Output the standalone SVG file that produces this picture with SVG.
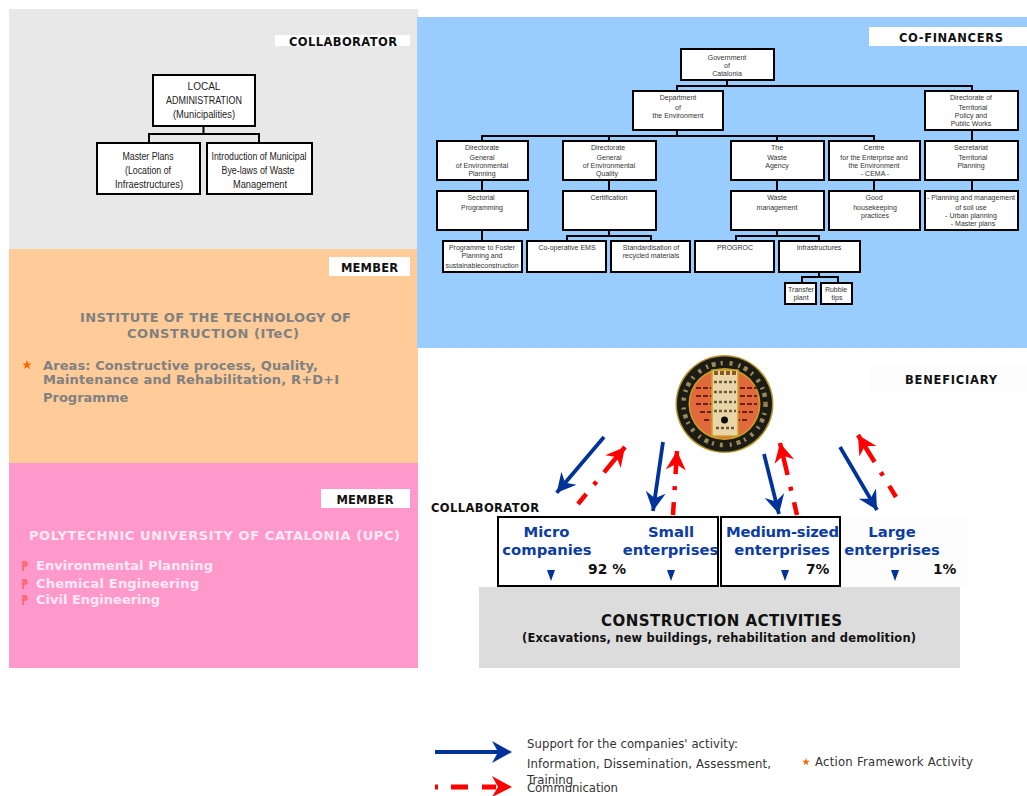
<svg xmlns="http://www.w3.org/2000/svg" xmlns:xlink="http://www.w3.org/1999/xlink" width="1027" height="796" viewBox="0 0 1027 796">
<style>
text{font-family:"DejaVu Sans",Verdana,sans-serif}
.b{fill:#fff;stroke:#000;stroke-width:2}
.o{font-family:"Liberation Sans",Arial,sans-serif;font-size:7px;fill:#333;text-anchor:middle}
.l{font-family:"Liberation Sans",Arial,sans-serif;font-size:10px;fill:#222;text-anchor:middle}
.tag{font-size:11.5px;font-weight:bold;fill:#111;text-anchor:middle}
.g{font-size:13px;font-weight:bold;fill:#808080}
.p{font-size:13px;font-weight:bold;fill:#ffe9f4}
.c{font-size:14.8px;font-weight:bold;fill:#0c3ca4;text-anchor:middle}
.pc{font-size:13.8px;font-weight:bold;fill:#111}
.k{font-size:11.7px;fill:#333}
.w{fill:none;stroke:#000;stroke-width:2}
.bl{fill:none;stroke:#003399;stroke-width:3.8;marker-end:url(#hb)}
.rd{fill:none;stroke:#f00;stroke-width:4.5;stroke-dasharray:13 12 4 12 200;marker-end:url(#hr)}
</style>
<defs>
<marker id="hb" markerUnits="userSpaceOnUse" markerWidth="21" markerHeight="22" viewBox="-20 -11 21 22" refX="0" refY="0" orient="auto"><path d="M0,0L-19,-10L-13,0L-19,10Z" fill="#003399"/></marker>
<marker id="hr" markerUnits="userSpaceOnUse" markerWidth="21" markerHeight="22" viewBox="-20 -11 21 22" refX="0" refY="0" orient="auto"><path d="M0,0L-19,-10L-13,0L-19,10Z" fill="#f00"/></marker>
<polygon id="star" fill="#ff6600" points="0,-5 1.18,-1.62 4.76,-1.55 1.9,.62 2.94,4.05 0,2 -2.94,4.05 -1.9,.62 -4.76,-1.55 -1.18,-1.62"/>
<path id="bul" fill="none" stroke="#ff5f5f" stroke-width="1.4" d="M-1,5V-4H1.5Q3,-4 3,-2Q3,0 1,0H-1M1,-3V-1"/>
<path id="tri" fill="#003399" d="M-4,0H4L0,11Z"/>
<filter id="soft" x="-5%" y="-5%" width="110%" height="110%"><feGaussianBlur stdDeviation=".7"/></filter>
</defs>
<rect width="1027" height="796" fill="#fff"/>
<rect x="9" y="9" width="409" height="241" fill="#e8e8e8"/>
<rect x="9" y="249" width="409" height="214" fill="#ffcc99"/>
<rect x="9" y="463" width="409" height="205" fill="#ff99cc"/>
<rect x="417" y="17" width="610" height="331" fill="#99ccff"/>

<g id="connectors">
<path class="w" d="M203.500,126V134M149,143V134H259V143"/>
<path class="w" d="M727,80V86M677,91V86H972V91M677,130V136M482,141V136H874V141M609,136V141M777,136V141M972,130V141M482,180V191M609,180V191M777,180V191M874,180V191M972,180V191M482,230V241M609,230V236M567,241V236H651V241M777,230V236M736,241V236H819V241M819,272V277M802,283V277H838V283"/>
<path class="bl" d="M604,437L556.700,492.700"/>
<path class="bl" d="M663,442L653,511"/>
<path class="bl" d="M764,454L779,514"/>
<path class="bl" d="M840,447L877,510"/>
<path class="rd" d="M578,504L625,447"/>
<path class="rd" d="M673,515L677,451"/>
<path class="rd" d="M797,515L780,443"/>
<path class="rd" d="M896,497L858,435"/>
</g>

<g id="tag-collaborator-1"><rect x="275" y="35" width="135" height="11" fill="#fff"/><text class="tag" x="343" y="46" textLength="108">COLLABORATOR</text></g>
<g id="local-admin"><rect class="b" x="153" y="75" width="102" height="51"/><text class="l" x="204" y="90">LOCAL</text><text class="l" x="204" y="104" textLength="76" lengthAdjust="spacingAndGlyphs">ADMINISTRATION</text><text class="l" x="204" y="118" textLength="62" lengthAdjust="spacingAndGlyphs">(Municipalities)</text></g>
<g id="master-plans"><rect class="b" x="97" y="143" width="103" height="51"/><text class="l" x="148" y="160" textLength="51" lengthAdjust="spacingAndGlyphs">Master Plans</text><text class="l" x="148" y="174" textLength="46" lengthAdjust="spacingAndGlyphs">(Location of</text><text class="l" x="149" y="188" textLength="68" lengthAdjust="spacingAndGlyphs">Infraestructures)</text></g>
<g id="bye-laws"><rect class="b" x="207" y="143" width="105" height="51"/><text class="l" x="259" y="160" textLength="95" lengthAdjust="spacingAndGlyphs">Introduction of Municipal</text><text class="l" x="258" y="174" textLength="73" lengthAdjust="spacingAndGlyphs">Bye-laws of Waste</text><text class="l" x="260" y="188" textLength="54" lengthAdjust="spacingAndGlyphs">Management</text></g>

<g id="tag-cofinancers"><rect x="869" y="27" width="158" height="19" fill="#fff"/><text class="tag" x="951" y="42" textLength="104">CO-FINANCERS</text></g>
<g id="government"><rect class="b" x="681" y="49" width="93" height="31"/><text class="o" x="727" y="60">Government</text><text class="o" x="727" y="68">of</text><text class="o" x="727" y="76">Catalonia</text></g>
<g id="department"><rect class="b" x="633" y="91" width="90" height="39"/><text class="o" x="678" y="100">Department</text><text class="o" x="678" y="110">of</text><text class="o" x="678" y="118">the Environment</text></g>
<g id="dir-territorial"><rect class="b" x="925" y="91" width="93" height="39"/><text class="o" x="971" y="100">Directorate of</text><text class="o" x="973" y="110">Territorial</text><text class="o" x="971" y="118">Policy and</text><text class="o" x="971" y="126">Public Works</text></g>
<g id="dg-planning"><rect class="b" x="437" y="141" width="91" height="39"/><text class="o" x="482" y="150">Directorate</text><text class="o" x="482" y="160">General</text><text class="o" x="482" y="168">of Environmental</text><text class="o" x="482" y="176">Planning</text></g>
<g id="dg-quality"><rect class="b" x="563" y="141" width="93" height="39"/><text class="o" x="608" y="150">Directorate</text><text class="o" x="609" y="160">General</text><text class="o" x="609" y="168">of Environmental</text><text class="o" x="607" y="176">Quality</text></g>
<g id="waste-agency"><rect class="b" x="731" y="141" width="93" height="39"/><text class="o" x="777" y="150">The</text><text class="o" x="777" y="160">Waste</text><text class="o" x="777" y="168">Agency</text></g>
<g id="cema"><rect class="b" x="829" y="141" width="91" height="39"/><text class="o" x="874" y="150">Centre</text><text class="o" x="874" y="160">for the Enterprise and</text><text class="o" x="874" y="168">the Environment</text><text class="o" x="875" y="176">- CEMA -</text></g>
<g id="secretariat"><rect class="b" x="925" y="141" width="93" height="39"/><text class="o" x="971" y="150">Secretariat</text><text class="o" x="973" y="160">Territorial</text><text class="o" x="971" y="168">Planning</text></g>
<g id="sectorial"><rect class="b" x="437" y="191" width="91" height="39"/><text class="o" x="481" y="200">Sectorial</text><text class="o" x="482" y="210">Programming</text></g>
<g id="certification"><rect class="b" x="563" y="191" width="93" height="39"/><text class="o" x="609" y="200">Certification</text></g>
<g id="waste-mgmt"><rect class="b" x="731" y="191" width="93" height="39"/><text class="o" x="777" y="200">Waste</text><text class="o" x="777" y="210">management</text></g>
<g id="housekeeping"><rect class="b" x="829" y="191" width="91" height="39"/><text class="o" x="874" y="200">Good</text><text class="o" x="875" y="210">housekeeping</text><text class="o" x="875" y="218">practices</text></g>
<g id="planning-soil"><rect class="b" x="925" y="191" width="93" height="39"/><text class="o" x="971" y="200">- Planning and management</text><text class="o" x="971" y="210">of soil use</text><text class="o" x="971" y="218">- Urban planning</text><text class="o" x="973" y="226">- Master plans</text></g>
<g id="programme"><rect class="b" x="443" y="241" width="79" height="31"/><text class="o" x="482" y="250">Programme to Foster</text><text class="o" x="482" y="258">Planning and</text><text class="o" x="482" y="268">sustainableconstruction</text></g>
<g id="coop-ems"><rect class="b" x="527" y="241" width="79" height="31"/><text class="o" x="567" y="250">Co-operative EMS</text></g>
<g id="standardisation"><rect class="b" x="611" y="241" width="79" height="31"/><text class="o" x="651" y="250">Standardisation of</text><text class="o" x="651" y="258">recycled materials</text></g>
<g id="progroc"><rect class="b" x="695" y="241" width="79" height="31"/><text class="o" x="735" y="250">PROGROC</text></g>
<g id="infrastructures"><rect class="b" x="779" y="241" width="81" height="31"/><text class="o" x="819" y="250">Infrastructures</text></g>
<g id="transfer"><rect class="b" x="785" y="283" width="31" height="21"/><text class="o" x="801" y="292">Transfer</text><text class="o" x="801" y="300">plant</text></g>
<g id="rubble"><rect class="b" x="821" y="283" width="31" height="21"/><text class="o" x="836" y="292">Rubble</text><text class="o" x="837" y="300">tips</text></g>

<g id="itec"><rect x="329" y="257" width="81" height="19" fill="#fff"/><text class="tag" x="369.500" y="272" textLength="57">MEMBER</text>
<text class="g" x="215.500" y="322" text-anchor="middle" textLength="271">INSTITUTE OF THE TECHNOLOGY OF</text><text class="g" x="213" y="338" text-anchor="middle" textLength="172">CONSTRUCTION (ITeC)</text>
<use xlink:href="#star" x="27" y="365"/>
<text class="g" x="43" y="370" textLength="275">Areas: Constructive process, Quality,</text><text class="g" x="43" y="384" textLength="296">Maintenance and Rehabilitation, R+D+I</text><text class="g" x="43" y="402">Programme</text></g>

<g id="upc"><rect x="321" y="489" width="89" height="19" fill="#fff"/><text class="tag" x="365" y="504" textLength="57">MEMBER</text>
<text class="p" x="214.500" y="540" text-anchor="middle" textLength="371">POLYTECHNIC UNIVERSITY OF CATALONIA (UPC)</text>
<use xlink:href="#bul" x="24" y="566"/><text class="p" x="36" y="570" textLength="177">Environmental Planning</text>
<use xlink:href="#bul" x="24" y="584"/><text class="p" x="36" y="588" textLength="163">Chemical Engineering</text>
<use xlink:href="#bul" x="24" y="600"/><text class="p" x="36" y="604">Civil Engineering</text></g>

<g id="seal" filter="url(#soft)">
<circle cx="724.500" cy="404" r="49" fill="#b8962a"/><circle cx="724.500" cy="404" r="47.500" fill="#1c1a16"/>
<circle cx="724.500" cy="404" r="41" fill="none" stroke="#9a8a58" stroke-width="4.500" stroke-dasharray="3 6 2 4 4 5 2 7"/>
<circle cx="724.500" cy="404" r="36" fill="#c9a227"/><circle cx="724.500" cy="404" r="34.500" fill="#e2693a"/>
<path d="M696,388h24M696,396h24M696,404h24M733,388h24M733,396h24M733,404h24M700,412h18M735,412h18M704,420h14M735,420h14" stroke="#6a2414" stroke-width="2" stroke-dasharray="5 2"/>
<rect x="712" y="370" width="26" height="66" fill="#e8d6a8" stroke="#c9a227" stroke-width="1.500"/>
<path d="M714,373h22" stroke="#8a5a20" stroke-width="4" stroke-dasharray="4 2"/>
<path d="M714,382h22M714,392h22M714,402h22M714,411h22M716,428h18" stroke="#6a5a3a" stroke-width="2.500" stroke-dasharray="3 2"/>
<circle cx="724.500" cy="420" r="3.500" fill="#111"/>
</g>

<g id="tag-beneficiary"><rect x="870" y="365" width="157" height="27" fill="#fdfdfd"/><text class="tag" x="951" y="384" textLength="92">BENEFICIARY</text></g>
<g id="tag-collaborator-2"><rect x="421" y="497" width="124" height="19" fill="#fdfdfd"/><text class="tag" x="485" y="512" textLength="108">COLLABORATOR</text></g>

<g id="large"><rect x="840" y="516" width="128" height="71" fill="#fdfdfd"/><text class="c" x="892" y="537">Large</text><text class="c" x="892" y="555">enterprises</text><use xlink:href="#tri" x="895" y="570"/><text class="pc" x="933" y="574">1%</text></g>
<g id="micro-small"><rect x="498" y="517" width="220" height="69" fill="#fff" stroke="#000" stroke-width="2"/><text class="c" x="546.500" y="537">Micro</text><text class="c" x="547" y="555">companies</text><text class="c" x="671" y="537">Small</text><text class="c" x="670.500" y="555">enterprises</text><use xlink:href="#tri" x="551" y="570"/><use xlink:href="#tri" x="671" y="570"/><text class="pc" x="588" y="574" textLength="38">92 %</text></g>
<g id="medium"><rect x="721" y="517" width="119" height="69" fill="#fff" stroke="#000" stroke-width="2"/><text class="c" x="782.500" y="537" textLength="113">Medium-sized</text><text class="c" x="782" y="555">enterprises</text><use xlink:href="#tri" x="785" y="570"/><text class="pc" x="806" y="574">7%</text></g>
<g id="activities"><rect x="479" y="587" width="481" height="81" fill="#dcdcdc"/><text x="721.500" y="626" font-size="15" font-weight="bold" fill="#111" text-anchor="middle" textLength="241">CONSTRUCTION ACTIVITIES</text><text x="719" y="642" font-size="11.500" font-weight="bold" fill="#111" text-anchor="middle" textLength="394">(Excavations, new buildings, rehabilitation and demolition)</text></g>

<g id="legend">
<path d="M435,750H497L492,741L512,752L492,763L497,754H435Z" fill="#003399"/>
<path d="M435,784.500h3v5h-3zM451,784.500h17v5h-17zM482,784.500h14v5h-14z" fill="#f00"/>
<path d="M492,776L512,787L492,797L498,787Z" fill="#f00"/>
<text class="k" x="527" y="748" textLength="211">Support for the companies' activity:</text>
<text class="k" x="527" y="768" textLength="244">Information, Dissemination, Assessment,</text>
<text class="k" x="527" y="784">Training</text>
<text class="k" x="527" y="792" textLength="91">Communication</text>
<use xlink:href="#star" transform="translate(806,762) scale(.8)"/>
<text class="k" x="815" y="766" textLength="158">Action Framework Activity</text>
</g>
</svg>
